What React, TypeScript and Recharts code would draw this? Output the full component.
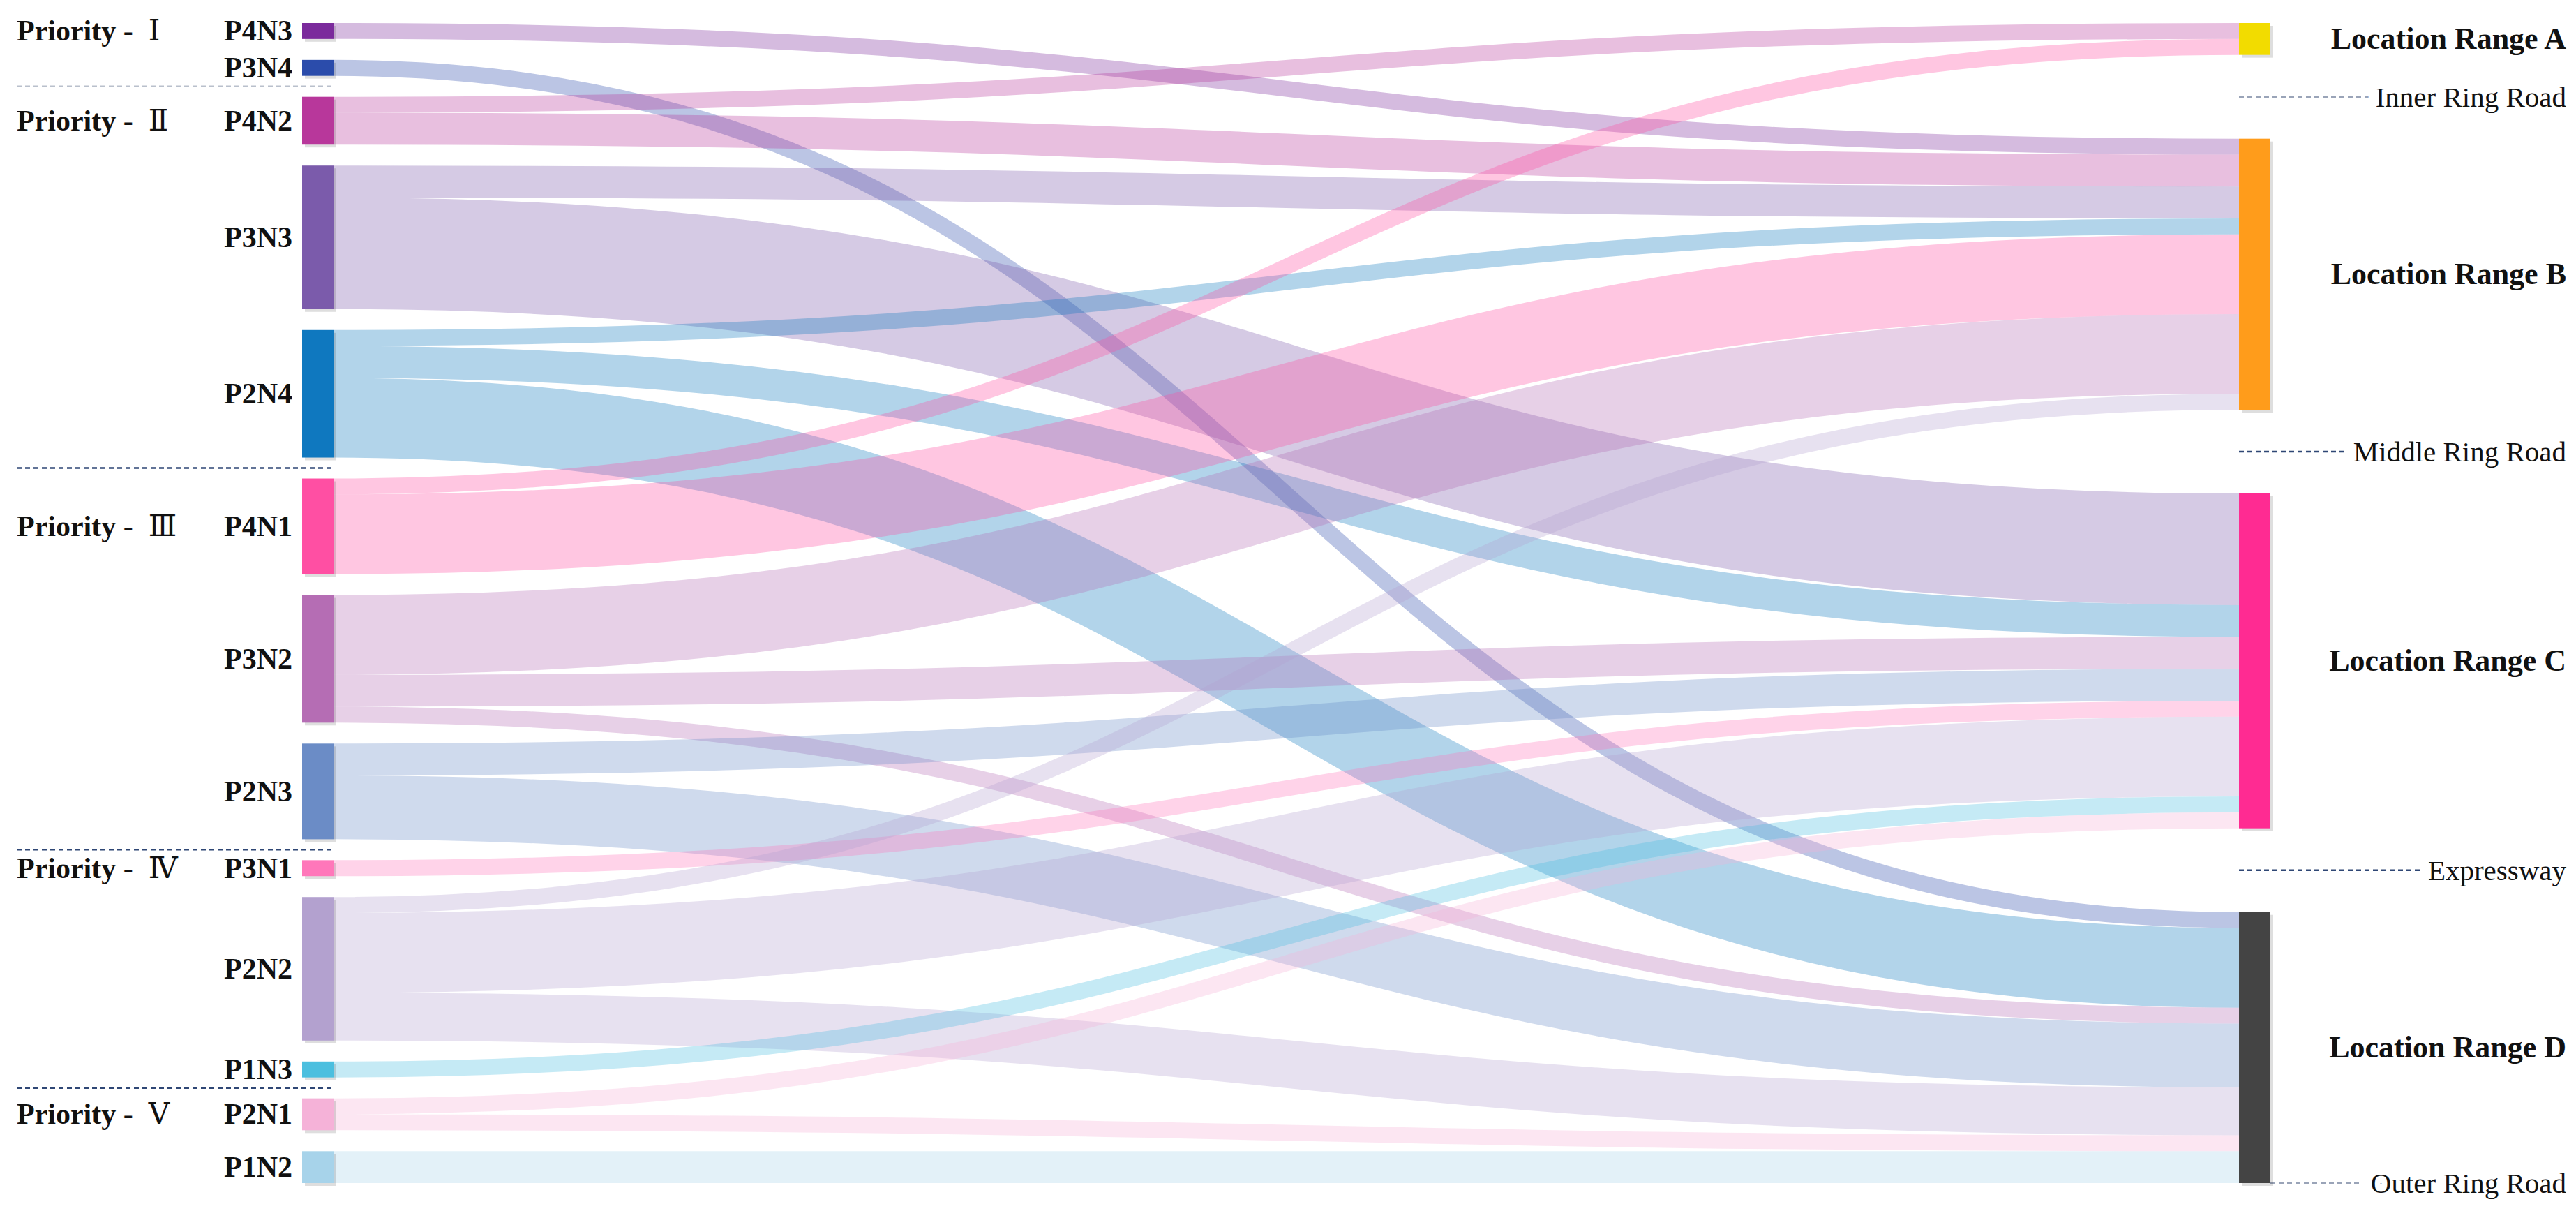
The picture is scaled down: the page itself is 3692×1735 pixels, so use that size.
import { Sankey } from 'recharts';

// left column (priority nodes), top to bottom
const sources = ['P4N3', 'P3N4', 'P4N2', 'P3N3', 'P2N4', 'P4N1', 'P3N2', 'P2N3', 'P3N1', 'P2N2', 'P1N3', 'P2N1', 'P1N2'];
const sourceColors = ['#7b2a9c', '#2b4cab', '#b8379b', '#7b5bab', '#0f78bf', '#ff4fa3', '#b56db4', '#6b8cc6', '#ff77ba', '#b3a1cf', '#4bbfdf', '#f5b2d8', '#a7d3ea'];

const priorityLabels = ['Priority - Ⅰ', 'Priority - Ⅱ', 'Priority - Ⅲ', 'Priority - Ⅳ', 'Priority - Ⅴ'];
const priorityFirst = ['P4N3', 'P4N2', 'P4N1', 'P3N1', 'P2N1'];

// right column
const ranges = ['Location Range A', 'Location Range B', 'Location Range C', 'Location Range D'];
const rangeColors = ['#f2dc00', '#ff9c1b', '#ff2b92', '#444444'];
const roads = ['Inner Ring Road', 'Middle Ring Road', 'Expressway', 'Outer Ring Road'];
const roadColors = ['#9aa4b8', '#2f4775', '#2f4775', '#9aa4b8'];

const flows: [string, string, number][] = [
  ['P4N3', 'Location Range B', 1],
  ['P3N4', 'Location Range D', 1],
  ['P4N2', 'Location Range A', 1],
  ['P4N2', 'Location Range B', 2],
  ['P3N3', 'Location Range B', 2],
  ['P3N3', 'Location Range C', 7],
  ['P2N4', 'Location Range B', 1],
  ['P2N4', 'Location Range C', 2],
  ['P2N4', 'Location Range D', 5],
  ['P4N1', 'Location Range A', 1],
  ['P4N1', 'Location Range B', 5],
  ['P3N2', 'Location Range B', 5],
  ['P3N2', 'Location Range C', 2],
  ['P3N2', 'Location Range D', 1],
  ['P2N3', 'Location Range C', 2],
  ['P2N3', 'Location Range D', 4],
  ['P3N1', 'Location Range C', 1],
  ['P2N2', 'Location Range B', 1],
  ['P2N2', 'Location Range C', 5],
  ['P2N2', 'Location Range D', 3],
  ['P1N3', 'Location Range C', 1],
  ['P2N1', 'Location Range C', 1],
  ['P2N1', 'Location Range D', 1],
  ['P1N2', 'Location Range D', 2],
];

const FONT = "'Liberation Serif', 'DejaVu Serif', serif";
const PADDING = 30;
const LABEL_RIGHT = 3678;

type NodeItem = { name: string; kind: 'source' | 'range' | 'road' | 'spacer'; color: string };

// empty spacer nodes widen the gaps between location ranges; the middle one carries the road name
const nodes: NodeItem[] = sources.map((name, i) => ({ name, kind: 'source', color: sourceColors[i] }));
ranges.forEach((name, i) => {
  nodes.push({ name, kind: 'range', color: rangeColors[i] });
  if (i < ranges.length - 1) {
    nodes.push({ name: '', kind: 'spacer', color: '' });
    nodes.push({ name: roads[i], kind: 'road', color: roadColors[i] });
    nodes.push({ name: '', kind: 'spacer', color: '' });
  }
});

const indexOf = (name: string) => nodes.findIndex(n => n.name === name);
const links = flows.map(([s, t, value]) => ({ source: indexOf(s), target: indexOf(t), value }));

const colorOf = (name: string) => nodes.find(n => n.name === name)?.color ?? '#999';

function RoadLabel({ x, y, color, name }: { x: number; y: number; color: string; name: string }) {
  return (
    <g>
      <line x1={x} x2={LABEL_RIGHT - 40} y1={y} y2={y} stroke={color} strokeWidth={2.5} strokeDasharray="7 5" />
      <text x={LABEL_RIGHT} y={y} textAnchor="end" dominantBaseline="central" fontFamily={FONT} fontSize={41}
        fill="#111" stroke="#fff" strokeWidth={30} strokeLinejoin="round" paintOrder="stroke">
        {name}
      </text>
    </g>
  );
}

function NodeShape(props: any) {
  const { x, y, width, height, payload } = props;
  const kind = payload.kind;
  const cy = y + height / 2;

  if (kind === 'spacer') return <g />;

  if (kind === 'road') return <RoadLabel x={x} y={cy} color={payload.color} name={payload.name} />;

  const shadow = <rect x={x + 4} y={y + 4} width={width} height={height} fill="#000" fillOpacity={0.13} />;

  if (kind === 'range') {
    const last = payload.name === ranges[ranges.length - 1];
    return (
      <g>
        {last && <RoadLabel x={x + width} y={y + height} color={roadColors[3]} name={roads[3]} />}
        {shadow}
        <rect x={x} y={y} width={width} height={height} fill={payload.color} />
        <text x={LABEL_RIGHT} y={cy} textAnchor="end" dominantBaseline="central" fontFamily={FONT} fontSize={44} fontWeight="bold" fill="#111">
          {payload.name}
        </text>
      </g>
    );
  }

  const group = priorityFirst.indexOf(payload.name);
  const label = group >= 0 ? priorityLabels[group] : '';
  const cut = label.lastIndexOf(' ');
  return (
    <g>
      {shadow}
      <rect x={x} y={y} width={width} height={height} fill={payload.color} />
      <text x={x - 14} y={cy} textAnchor="end" dominantBaseline="central" fontFamily={FONT} fontSize={42} fontWeight="bold" fill="#111">
        {payload.name}
      </text>
      {group >= 0 && (
        <text x={24} y={cy} dominantBaseline="central" fontFamily={FONT} fontSize={42} fontWeight="bold" fill="#111">
          {label.slice(0, cut)}
          <tspan dx={22} fontWeight="normal">{label.slice(cut + 1)}</tspan>
        </text>
      )}
      {group > 0 && (
        <line x1={24} x2={x + width} y1={y - PADDING / 2} y2={y - PADDING / 2}
          stroke={group === 1 ? '#b9c0cc' : '#2f4775'} strokeWidth={2.5} strokeDasharray="7 5" />
      )}
    </g>
  );
}

function LinkShape(props: any) {
  const { sourceX, targetX, sourceY, targetY, sourceControlX, targetControlX, linkWidth, payload } = props;
  const d = `M${sourceX},${sourceY} C${sourceControlX},${sourceY} ${targetControlX},${targetY} ${targetX},${targetY}`;
  return (
    <path d={d} fill="none" stroke={colorOf(payload.source.name)} strokeOpacity={0.32} strokeWidth={linkWidth} />
  );
}

export default function App() {
  return (
    <div style={{ position: 'absolute', left: 0, top: 0, width: 3692, height: 1735, background: '#fff' }}>
      <Sankey
        width={3692}
        height={1735}
        data={{ nodes, links }}
        nodeWidth={45}
        nodePadding={PADDING}
        iterations={0}
        linkCurvature={0.5}
        margin={{ top: 33, right: 438, bottom: 40, left: 433 }}
        node={<NodeShape />}
        link={<LinkShape />}
      />
    </div>
  );
}
